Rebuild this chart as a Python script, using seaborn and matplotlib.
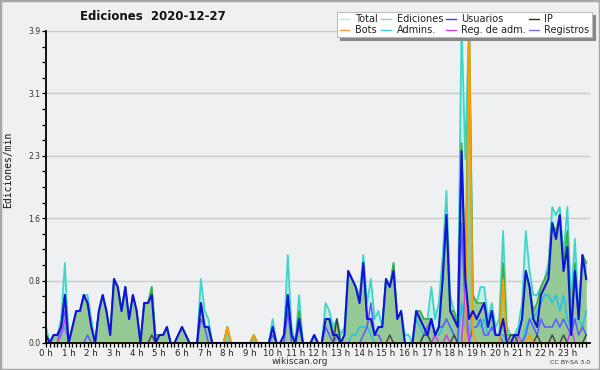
import numpy as np
import pandas as pd
import matplotlib
matplotlib.use("Agg")
import matplotlib.pyplot as plt
import seaborn as sns
from matplotlib.lines import Line2D
from matplotlib.patches import Rectangle

# 10-minute bins, values in edits per minute (one row = one hour, 0 h .. 23 h)
total = [
    0.2,0.0,0.1,0.1,0.3,1.0,
    0.0,0.2,0.4,0.4,0.6,0.6,
    0.3,0.0,0.4,0.6,0.4,0.1,
    0.8,0.7,0.4,0.7,0.3,0.6,
    0.4,0.0,0.5,0.5,0.7,0.0,
    0.1,0.1,0.2,0.0,0.0,0.1,
    0.2,0.1,0.0,0.0,0.0,0.8,
    0.4,0.3,0.0,0.0,0.0,0.0,
    0.2,0.0,0.0,0.0,0.0,0.0,
    0.0,0.1,0.0,0.0,0.0,0.0,
    0.3,0.0,0.0,0.1,1.1,0.2,
    0.0,0.6,0.0,0.0,0.0,0.1,
    0.0,0.0,0.5,0.4,0.2,0.3,
    0.1,0.2,0.9,0.8,0.7,0.6,
    1.1,0.5,0.8,0.3,0.4,0.2,
    0.8,0.7,1.0,0.3,0.4,0.1,
    0.1,0.0,0.4,0.4,0.3,0.3,
    0.7,0.3,0.5,1.1,1.9,0.6,
    0.4,0.3,4.0,2.3,4.1,0.6,
    0.5,0.7,0.7,0.3,0.5,0.2,
    0.3,1.4,0.2,0.1,0.1,0.2,
    0.5,1.4,0.9,0.6,0.6,0.7,
    0.8,1.0,1.7,1.6,1.7,1.1,
    1.7,0.5,1.3,0.4,1.1,1.0,
]
ediciones = [
    0.1,0.0,0.1,0.1,0.2,0.6,
    0.0,0.2,0.4,0.4,0.6,0.5,
    0.2,0.0,0.4,0.6,0.4,0.1,
    0.8,0.7,0.4,0.7,0.3,0.6,
    0.4,0.0,0.5,0.5,0.7,0.1,
    0.1,0.1,0.2,0.0,0.0,0.1,
    0.2,0.1,0.0,0.0,0.0,0.5,
    0.2,0.2,0.0,0.0,0.0,0.0,
    0.2,0.0,0.0,0.0,0.0,0.0,
    0.0,0.1,0.0,0.0,0.0,0.0,
    0.2,0.0,0.0,0.1,0.6,0.1,
    0.0,0.4,0.0,0.0,0.0,0.1,
    0.0,0.0,0.3,0.3,0.1,0.3,
    0.0,0.1,0.9,0.8,0.7,0.5,
    1.0,0.3,0.3,0.1,0.2,0.2,
    0.8,0.7,1.0,0.3,0.4,0.0,
    0.0,0.0,0.4,0.4,0.3,0.3,
    0.3,0.1,0.2,0.8,1.6,0.4,
    0.4,0.2,2.5,0.8,4.0,0.6,
    0.5,0.5,0.5,0.2,0.4,0.1,
    0.1,1.0,0.1,0.1,0.1,0.1,
    0.3,0.9,0.7,0.4,0.5,0.7,
    0.8,0.9,1.5,1.4,1.6,1.0,
    1.4,0.2,1.0,0.3,1.1,1.0,
]
usuarios = [
    0.1,0.0,0.1,0.1,0.2,0.6,
    0.0,0.2,0.4,0.4,0.6,0.5,
    0.2,0.0,0.4,0.6,0.4,0.1,
    0.8,0.7,0.4,0.7,0.3,0.6,
    0.4,0.0,0.5,0.5,0.6,0.0,
    0.1,0.1,0.2,0.0,0.0,0.1,
    0.2,0.1,0.0,0.0,0.0,0.5,
    0.2,0.2,0.0,0.0,0.0,0.0,
    0.0,0.0,0.0,0.0,0.0,0.0,
    0.0,0.0,0.0,0.0,0.0,0.0,
    0.2,0.0,0.0,0.1,0.6,0.1,
    0.0,0.3,0.0,0.0,0.0,0.1,
    0.0,0.0,0.3,0.3,0.1,0.1,
    0.0,0.1,0.9,0.8,0.7,0.5,
    1.0,0.3,0.3,0.1,0.2,0.2,
    0.8,0.7,0.9,0.3,0.4,0.0,
    0.0,0.0,0.4,0.3,0.2,0.1,
    0.3,0.1,0.2,0.8,1.6,0.4,
    0.3,0.2,2.4,0.8,0.3,0.4,
    0.3,0.4,0.5,0.2,0.4,0.1,
    0.1,0.3,0.0,0.0,0.1,0.1,
    0.3,0.9,0.7,0.3,0.2,0.6,
    0.7,0.8,1.5,1.3,1.6,0.9,
    1.2,0.1,0.9,0.3,1.1,0.8,
]
ip = [
    0,0,0,0,0,0,
    0,0,0,0,0,0,
    0,0,0,0,0,0,
    0,0,0,0,0,0,
    0,0,0,0,0.1,0,
    0,0,0,0,0,0,
    0,0,0,0,0,0,
    0,0,0,0,0,0,
    0,0,0,0,0,0,
    0,0,0,0,0,0,
    0,0,0,0,0,0,
    0,0,0,0,0,0,
    0,0,0,0,0,0.3,
    0,0,0,0,0,0,
    0,0,0,0,0,0,
    0,0.1,0,0,0,0,
    0,0,0,0,0.1,0.1,
    0,0,0,0,0,0,
    0.1,0,0,0,0,0,
    0,0,0,0,0,0,
    0,0,0,0.1,0.1,0,
    0,0,0,0,0.1,0,
    0,0,0.1,0,0,0.1,
    0,0,0,0,0,0.1,
]
bots = [
    0,0,0,0,0,0,
    0,0,0,0,0,0,
    0,0,0,0,0,0,
    0,0,0,0,0,0,
    0,0,0,0,0,0,
    0,0,0,0,0,0,
    0,0,0,0,0,0,
    0,0,0,0,0,0,
    0.2,0,0,0,0,0,
    0,0.1,0,0,0,0,
    0,0,0,0,0,0,
    0,0,0,0,0,0,
    0,0,0,0,0,0,
    0,0,0,0,0,0,
    0,0,0,0,0,0,
    0,0,0,0,0,0,
    0,0,0,0,0,0,
    0,0,0,0,0,0,
    0,0,0,0,4.0,0.1,
    0,0,0,0,0,0,
    0,0.8,0,0,0,0,
    0,0,0.1,0,0,0,
    0,0,0,0,0,0,
    0,0,0,0,0,0,
]
admins = [
    0.1,0,0.1,0.1,0.1,0.2,
    0,0,0,0,0,0,
    0,0,0,0,0,0,
    0,0,0,0,0,0,
    0,0,0,0,0,0,
    0,0,0,0,0,0,
    0,0,0,0,0,0,
    0,0,0,0,0,0,
    0,0,0,0,0,0,
    0,0,0,0,0,0,
    0,0,0,0,0,0,
    0,0,0,0,0,0,
    0,0,0,0,0,0,
    0,0,0,0.1,0.1,0.2,
    0.2,0.2,0.1,0,0,0,
    0,0,0,0,0,0,
    0,0,0.3,0.2,0.1,0.1,
    0,0.1,0.1,0.2,0.3,0.2,
    0.1,0,0.5,0.2,0.1,0.4,
    0.3,0.2,0.3,0.1,0.2,0.1,
    0.1,0.1,0,0,0,0,
    0,0.2,0.3,0.3,0.4,0.5,
    0.6,0.6,0.5,0.6,0.4,0.6,
    0.3,0.2,0.3,0.3,0.2,0.4,
]
reg_adm = [
    0,0,0,0,0.1,0.3,
    0,0,0,0,0,0,
    0,0,0,0,0,0,
    0,0,0,0,0,0,
    0,0,0,0,0,0,
    0,0,0,0,0,0,
    0,0,0,0,0,0,
    0,0,0,0,0,0,
    0,0,0,0,0,0,
    0,0,0,0,0,0,
    0,0,0,0,0,0,
    0,0,0,0,0,0,
    0,0,0,0,0,0,
    0,0,0,0,0,0,
    0,0,0,0,0,0,
    0,0,0,0,0,0,
    0,0,0,0,0,0,
    0,0.1,0,0,0.1,0,
    0,0,0,0.7,0,0,
    0,0,0,0,0,0,
    0,0,0,0,0,0.1,
    0,0,0,0,0,0,
    0,0,0,0,0,0,
    0,0.2,0,0,0,0,
]
registros = [
    0,0,0,0,0.2,0.4,
    0,0,0,0,0,0.1,
    0,0,0,0,0,0,
    0,0,0,0,0,0,
    0,0,0,0,0,0,
    0,0,0,0,0,0,
    0,0,0,0,0,0.3,
    0.2,0,0,0,0,0,
    0,0,0,0,0,0,
    0,0,0,0,0,0,
    0.1,0,0,0,0.4,0,
    0,0.2,0,0,0,0.1,
    0,0,0.2,0.1,0,0.1,
    0,0,0,0,0,0,
    0.1,0.2,0.5,0.1,0.1,0,
    0,0,0,0,0,0,
    0,0,0,0,0.1,0.2,
    0.3,0.1,0.2,0.2,0.3,0.2,
    0.1,0,1.5,0.4,0,0.2,
    0.2,0.3,0.1,0.1,0.2,0.1,
    0.1,0,0,0,0,0,
    0,0.1,0.3,0.2,0.1,0.3,
    0.2,0.2,0.2,0.3,0.2,0.3,
    0.2,0.1,0.3,0.1,0.2,0.1,
]
hour_labels = [f"{h} h" for h in range(24)]
y_ticks = [0.0, 0.78, 1.56, 2.34, 3.12, 3.9]
y_labels = ["0.0", "0.8", "1.6", "2.3", "3.1", "3.9"]

hours = np.arange(144) / 6.0
df = pd.DataFrame({
    "h": hours, "total": total, "ediciones": ediciones,
    "usuarios": usuarios, "ip": ip, "bots": bots,
    "admins": admins, "reg_adm": reg_adm, "registros": registros,
})

fig = plt.figure(figsize=(6, 3.7), dpi=100, facecolor="#f0f0f0")
ax = fig.add_axes([46/600, 1-343/370, 544/600, 312/370])
ax.set_facecolor("#eff0f2")

ax.fill_between(df["h"], df["total"], color="#c6ece6", lw=0, zorder=1)
ax.fill_between(df["h"], df["ediciones"], color="#94c894", lw=0, zorder=2)

series = [
    ("total", "#3ed6c8", 1.3, 3),
    ("ediciones", "#3cb03c", 1.2, 4),
    ("admins", "#22c4e6", 1.1, 5),
    ("registros", "#5a5aff", 1.1, 6),
    ("reg_adm", "#c840f0", 1.1, 6),
    ("ip", "#404040", 1.0, 6),
    ("bots", "#ff9c00", 1.3, 7),
    ("usuarios", "#1212dc", 1.5, 8),
]
for col, c, lw, z in series:
    sns.lineplot(data=df, x="h", y=col, ax=ax, color=c, lw=lw, zorder=z)

ax.set_xlim(0, 24)
ax.set_ylim(0, 3.9)
ax.set_xlabel("")
ax.set_ylabel("")
for s in ["top", "right"]:
    ax.spines[s].set_visible(False)
for s in ["left", "bottom"]:
    ax.spines[s].set_color("black")
    ax.spines[s].set_linewidth(1.3)
    ax.spines[s].set_zorder(10)

ax.set_xticks(range(24))
ax.set_xticklabels(hour_labels, fontsize=6.2, color="#222222")
ax.set_xticks(hours, minor=True)
ax.set_yticks(y_ticks)
ax.set_yticklabels(y_labels, fontsize=5.5, color="#333333")
ax.set_yticks(np.arange(0, 3.91, 0.195), minor=True)
ax.tick_params(axis="both", which="both", direction="out", length=3, width=0.9, color="black", pad=1)
ax.yaxis.grid(True, color="#cbcbcb", lw=1)
ax.set_axisbelow(True)

fig.text(8/600, 0.54, "Ediciones/min", rotation=90, family="DejaVu Sans Mono",
         fontsize=7, va="center", ha="center", color="#111111")
fig.text(153/600, 1-17/370, "Ediciones  2020-12-27", ha="center", va="center",
         fontsize=8.5, weight="bold", color="#111111")
fig.text(0.5, 1-361/370, "wikiscan.org", ha="center", va="center", fontsize=6.5, color="#333333")
fig.text(590/600, 1-362/370, "CC BY-SA 3.0", ha="right", va="center", fontsize=4.5, color="#333333")

h_total = Line2D([], [], color="#b4ecec", lw=1)
h_ed = Line2D([], [], color="#94d894", lw=1)
h_us = Line2D([], [], color="#3c3ce0", lw=1)
h_ip = Line2D([], [], color="#303030", lw=1)
h_bots = Line2D([], [], color="#f0a040", lw=1)
h_adm = Line2D([], [], color="#40d0e0", lw=1)
h_reg = Line2D([], [], color="#d040e0", lw=1)
h_log = Line2D([], [], color="#7070ff", lw=1)
handles = [h_total, h_bots, h_ed, h_adm, h_us, h_reg, h_ip, h_log]
labels = ["Total", "Bots", "Ediciones", "Admins.", "Usuarios", "Reg. de adm.", "IP", "Registros"]
leg = fig.legend(handles, labels, ncol=4, loc="upper right", bbox_to_anchor=(592/600, 1-12/370),
                 fontsize=7, frameon=True, fancybox=False, shadow={"color": "#888888", "alpha": 1},
                 edgecolor="#bbbbbb", framealpha=1, handlelength=1.0, handletextpad=0.6,
                 columnspacing=0.3, labelspacing=0.05, borderpad=0.25, borderaxespad=0)
leg.get_frame().set_linewidth(0.8)
for t in leg.get_texts():
    t.set_color("#222222")

fig.patches.append(Rectangle((0, 0), 1, 1, transform=fig.transFigure, fill=False,
                             edgecolor="#a8a8a8", lw=2.5))
fig.savefig("out.png", dpi=100, facecolor=fig.get_facecolor())
